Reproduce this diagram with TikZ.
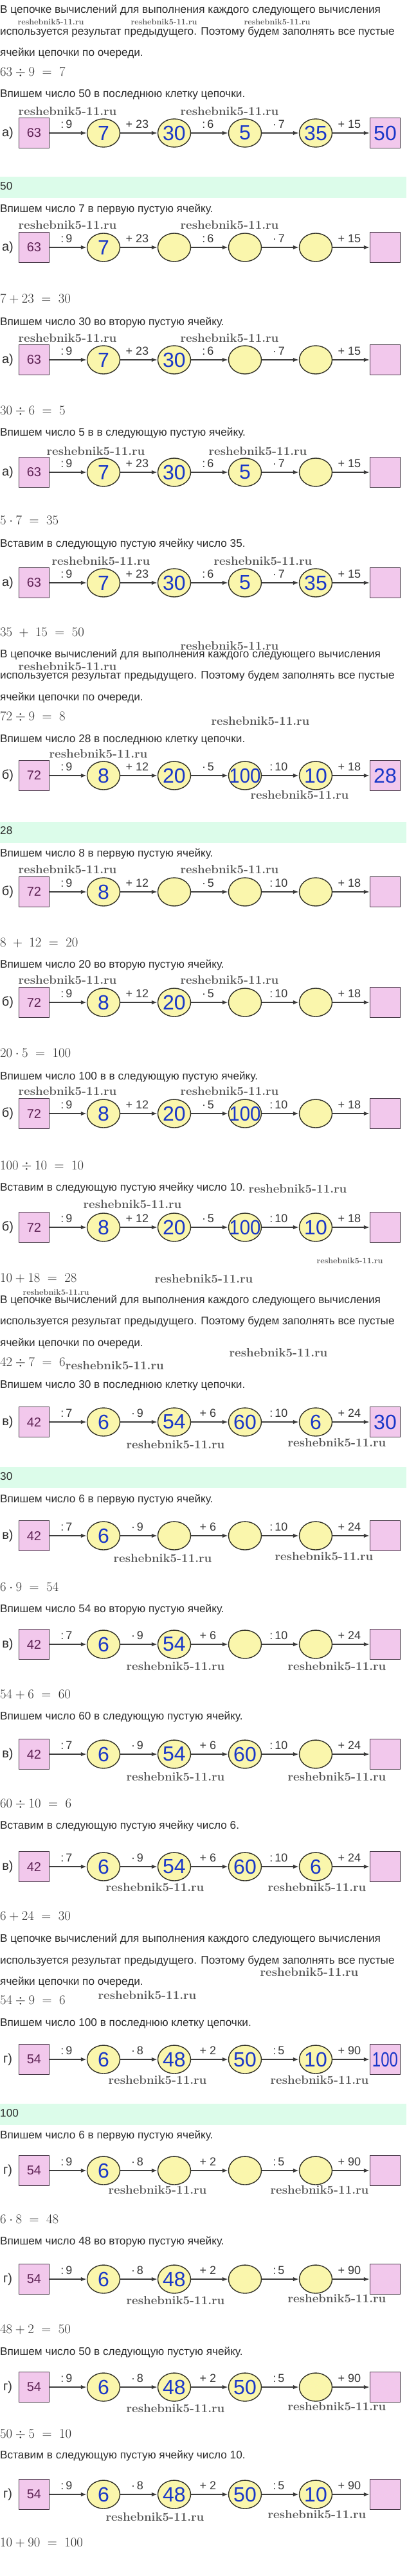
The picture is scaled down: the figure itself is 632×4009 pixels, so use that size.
\documentclass[tikz,border=0pt]{standalone}
\usepackage{fontspec}
\newfontfamily\sansf{Liberation Sans}
\usetikzlibrary{shapes.geometric,arrows.meta}
\definecolor{boxfill}{RGB}{242,200,236}
\definecolor{boxline}{RGB}{70,55,70}
\definecolor{circfill}{RGB}{250,246,172}
\definecolor{circline}{RGB}{50,50,40}
\definecolor{valblue}{RGB}{25,55,200}
\definecolor{startc}{RGB}{95,35,85}
\definecolor{bandc}{RGB}{220,252,234}
\definecolor{textc}{RGB}{45,45,45}
\definecolor{opc}{RGB}{55,55,55}
\definecolor{linec}{RGB}{60,60,60}
\definecolor{wmc}{RGB}{85,85,85}
\newcommand\fsz[1]{\fontsize{#1}{#1}\selectfont}
\newcommand\setops[6]{\def\cLet{#1}\def\cOpA{#2}\def\cOpB{#3}\def\cOpC{#4}\def\cOpD{#5}\def\cOpE{#6}}
\newcommand\mkchain[8]{%
  \node[letl] (#1l) at (12,#2) {\cLet};
  \node[boxn] (#1b) at (53,#2) {\textcolor{startc}{\fsz{20}#3}};
  \node[circn] (#1c1) at (161,#2) {\makebox[0pt]{#4}};
  \node[circn] (#1c2) at (271,#2) {\makebox[0pt]{#5}};
  \node[circn] (#1c3) at (381,#2) {\makebox[0pt]{#6}};
  \node[circn] (#1c4) at (491,#2) {\makebox[0pt]{#7}};
  \node[boxn] (#1e) at (599,#2) {\makebox[0pt]{#8}};
  \draw[conn] (#1b) -- node[opl] (#1o1) {\cOpA} (#1c1);
  \draw[conn] (#1c1) -- node[opl] (#1o2) {\cOpB} (#1c2);
  \draw[conn] (#1c2) -- node[opl] (#1o3) {\cOpC} (#1c3);
  \draw[conn] (#1c3) -- node[opl] (#1o4) {\cOpD} (#1c4);
  \draw[conn] (#1c4) -- node[opl] (#1o5) {\cOpE} (#1e);
}
\newcommand\btext[3]{\node[bodyt] (#1) at (0,#2) {#3};}
\newcommand\mline[3]{\node[matht] (#1) at (0,#2) {$#3$};}
\newcommand\bandrow[3]{\node[bandn] (#1) at (316,#2) {}; \node[bodyt] (#1t) at (0,#2) {#3};}
\tikzset{
  bodyt/.style={anchor=west, inner sep=0pt, font=\sansf\fsz{17.2}, text=textc, text height=0.72em, text depth=0pt},
  matht/.style={anchor=west, inner sep=0pt, font=\fsz{20}, text=textc, text height=0.65em, text depth=0pt},
  wmL/.style={inner sep=0pt, font=\fsz{18.7}\bfseries, text=wmc},
  wmS/.style={inner sep=0pt, font=\fsz{12.6}\bfseries, text=wmc},
  boxn/.style={draw=boxline, fill=boxfill, line width=1.4pt, minimum width=47pt, minimum height=47pt, inner sep=0pt, font=\sansf\fsz{32}, text=valblue},
  circn/.style={ellipse, draw=circline, fill=circfill, line width=1.4pt, minimum width=51pt, minimum height=44pt, inner sep=0pt, font=\sansf\fsz{32}, text=valblue},
  conn/.style={draw=linec, line width=1.4pt, -{Latex[length=9pt,width=6.5pt]}},
  opl/.style={midway, above=7pt, xshift=-2.5pt, inner sep=0pt, font=\sansf\fsz{18}, text=opc},
  letl/.style={inner sep=0pt, font=\sansf\fsz{20}, text=textc},
  bandn/.style={fill=bandc, minimum width=632pt, minimum height=33pt, inner sep=0pt},
}
\begin{document}
\begin{tikzpicture}[x=1pt,y=-1pt]
\fill[white] (0,0) rectangle (632,4009);
\useasboundingbox (0,0) rectangle (632,4009);

% ---------- а ----------
\btext{t1}{17}{В цепочке вычислений для выполнения каждого следующего вычисления}
\btext{t2}{51}{используется результат предыдущего. Поэтому будем заполнять все пустые}
\btext{t3}{84}{ячейки цепочки по очереди.}
\mline{m1}{115}{63 \div 9 \;=\; 7}
\btext{t4}{148}{Впишем число 50 в последнюю клетку цепочки.}
\setops{а)}{:\,9}{+ 23}{:\,6}{·\,7}{+ 15}
\mkchain{a1}{207}{63}{7}{30}{5}{35}{50}
\bandrow{g1}{291.5}{50}
\btext{t5}{327}{Впишем число 7 в первую пустую ячейку.}
\mkchain{a2}{385}{63}{7}{}{}{}{}
\mline{m2}{468}{7 + 23 \;=\; 30}
\btext{t6}{503}{Впишем число 30 во вторую пустую ячейку.}
\mkchain{a3}{560}{63}{7}{30}{}{}{}
\mline{m3}{642}{30 \div 6 \;=\; 5}
\btext{t7}{675}{Впишем число 5 в в следующую пустую ячейку.}
\mkchain{a4}{735}{63}{7}{30}{5}{}{}
\mline{m4}{813}{5 \cdot 7 \;=\; 35}
\btext{t8}{848}{Вставим в следующую пустую ячейку число 35.}
\mkchain{a5}{907}{63}{7}{30}{5}{35}{}
\mline{m5}{987}{35 \;+\; 15 \;=\; 50}

% ---------- б ----------
\btext{t9}{1020}{В цепочке вычислений для выполнения каждого следующего вычисления}
\btext{t10}{1053}{используется результат предыдущего. Поэтому будем заполнять все пустые}
\btext{t11}{1087}{ячейки цепочки по очереди.}
\mline{m6}{1118}{72 \div 9 \;=\; 8}
\btext{t12}{1152}{Впишем число 28 в последнюю клетку цепочки.}
\setops{б)}{:\,9}{+ 12}{·\,5}{:\,10}{+ 18}
\mkchain{b1}{1207}{72}{8}{20}{\scalebox{0.92}[1]{100}}{10}{28}
\bandrow{g2}{1295}{28}
\btext{t13}{1330}{Впишем число 8 в первую пустую ячейку.}
\mkchain{b2}{1388}{72}{8}{}{}{}{}
\mline{m7}{1470}{8 \;+\; 12 \;=\; 20}
\btext{t14}{1503}{Впишем число 20 во вторую пустую ячейку.}
\mkchain{b3}{1560}{72}{8}{20}{}{}{}
\mline{m8}{1642}{20 \cdot 5 \;=\; 100}
\btext{t15}{1677}{Впишем число 100 в в следующую пустую ячейку.}
\mkchain{b4}{1733}{72}{8}{20}{\scalebox{0.92}[1]{100}}{}{}
\mline{m9}{1817}{100 \div 10 \;=\; 10}
\btext{t16}{1850}{Вставим в следующую пустую ячейку число 10.}
\mkchain{b5}{1910}{72}{8}{20}{\scalebox{0.92}[1]{100}}{10}{}
\mline{m10}{1992}{10 + 18 \;=\; 28}

% ---------- в ----------
\btext{t17}{2025}{В цепочке вычислений для выполнения каждого следующего вычисления}
\btext{t18}{2058}{используется результат предыдущего. Поэтому будем заполнять все пустые}
\btext{t19}{2092}{ячейки цепочки по очереди.}
\mline{m11}{2123}{42 \div 7 \;=\; 6}
\node[wmL, anchor=west] (wm11) at ([yshift=-2pt]m11.east) {reshebnik5-11.ru};
\btext{t20}{2157}{Впишем число 30 в последнюю клетку цепочки.}
\setops{в)}{:\,7}{·\,9}{+ 6}{:\,10}{+ 24}
\mkchain{c1}{2213}{42}{6}{54}{60}{6}{30}
\bandrow{g3}{2299.5}{30}
\btext{t21}{2335}{Впишем число 6 в первую пустую ячейку.}
\mkchain{c2}{2390}{42}{6}{}{}{}{}
\mline{m12}{2473}{6 \cdot 9 \;=\; 54}
\btext{t22}{2506}{Впишем число 54 во вторую пустую ячейку.}
\mkchain{c3}{2559}{42}{6}{54}{}{}{}
\mline{m13}{2640}{54 + 6 \;=\; 60}
\btext{t23}{2673}{Впишем число 60 в следующую пустую ячейку.}
\mkchain{c4}{2730}{42}{6}{54}{60}{}{}
\mline{m14}{2810}{60 \div 10 \;=\; 6}
\btext{t24}{2843}{Вставим в следующую пустую ячейку число 6.}
\mkchain{c5}{2905}{42}{6}{54}{60}{6}{}
\mline{m15}{2985}{6 + 24 \;=\; 30}

% ---------- г ----------
\btext{t25}{3019}{В цепочке вычислений для выполнения каждого следующего вычисления}
\btext{t26}{3053}{используется результат предыдущего. Поэтому будем заполнять все пустые}
\btext{t27}{3086}{ячейки цепочки по очереди.}
\mline{m16}{3116}{54 \div 9 \;=\; 6}
\btext{t28}{3150}{Впишем число 100 в последнюю клетку цепочки.}
\setops{г)}{:\,9}{·\,8}{+ 2}{:\,5}{+ 90}
\mkchain{d1}{3205}{54}{6}{48}{50}{10}{\scalebox{0.75}[1]{100}}
\bandrow{g4}{3290.5}{100}
\btext{t29}{3325}{Впишем число 6 в первую пустую ячейку.}
\mkchain{d2}{3378}{54}{6}{}{}{}{}
\mline{m17}{3457}{6 \cdot 8 \;=\; 48}
\btext{t30}{3490}{Впишем число 48 во вторую пустую ячейку.}
\mkchain{d3}{3547}{54}{6}{48}{}{}{}
\mline{m18}{3628}{48 + 2 \;=\; 50}
\btext{t31}{3662}{Впишем число 50 в следующую пустую ячейку.}
\mkchain{d4}{3715}{54}{6}{48}{50}{}{}
\mline{m19}{3791}{50 \div 5 \;=\; 10}
\btext{t32}{3823}{Вставим в следующую пустую ячейку число 10.}
\mkchain{d5}{3882}{54}{6}{48}{50}{10}{}
\mline{m20}{3960}{10 + 90 \;=\; 100}

% ---------- watermarks ----------
\foreach \xx/\yy [count=\i] in {79/34,255/34,431/34,544/1962,87/2011}
  {\node[wmS] (ws\i) at (\xx,\yy) {reshebnik5-11.ru};}
\foreach \xx/\yy [count=\i] in {105/173,357/173,105/350,357/350,105/526,357/526,
  149/702,401/702,157/873,409/873,357/1005,105/1037,405/1122,153/1173,466/1237,
  105/1353,357/1353,105/1525,357/1525,105/1698,357/1698,463/1850,206/1874,
  317/1990,433/2105,273/2248,524/2245,253/2425,504/2422,273/2593,524/2593,
  273/2765,524/2765,241/2937,493/2937,481/3069,229/3105,245/3237,497/3237,
  245/3408,497/3408,273/3580,524/3577,273/3748,524/3745,241/3917,493/3913}
  {\node[wmL] (wl\i) at (\xx,\yy) {reshebnik5-11.ru};}
\end{tikzpicture}
\end{document}
